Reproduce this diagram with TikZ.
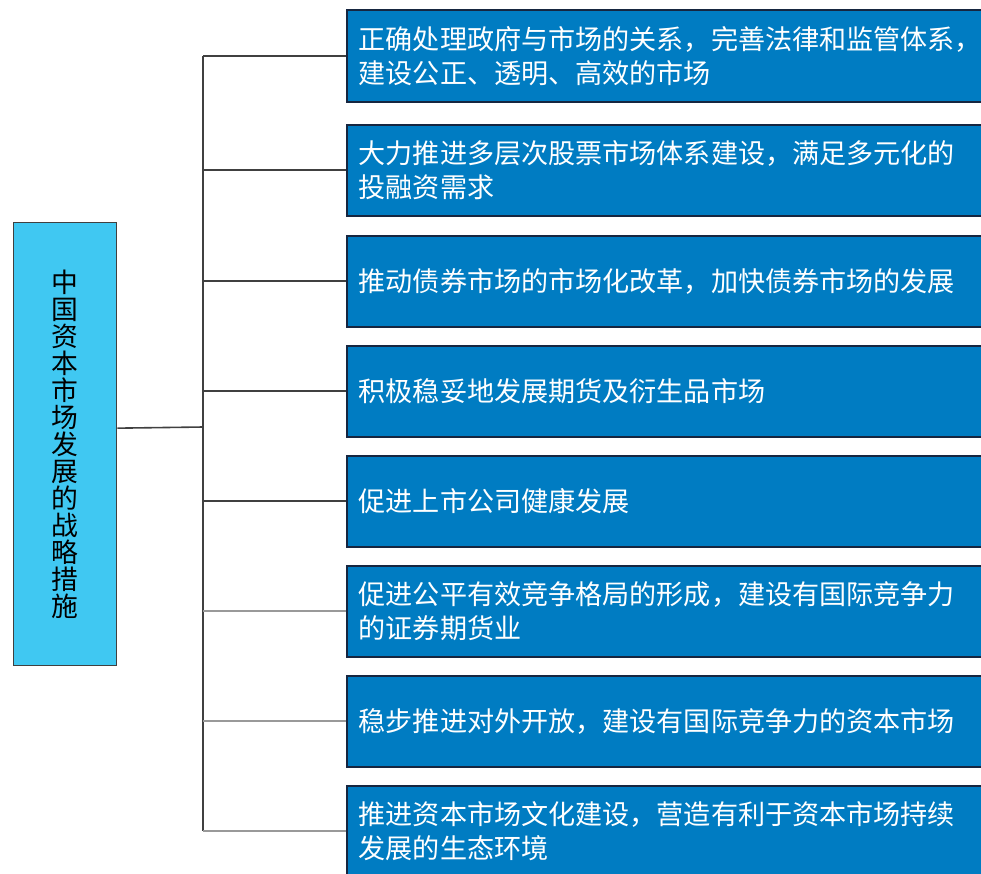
\documentclass[tikz,border=0pt]{standalone}
\usepackage{fontspec}
\setmainfont{Noto Sans CJK SC}
\usetikzlibrary{shadows}
\definecolor{rootblue}{RGB}{64,200,242}
\definecolor{itemblue}{RGB}{0,124,194}
\definecolor{itemedge}{RGB}{22,38,64}
\begin{document}
\begin{tikzpicture}[x=1pt, y=-1pt,
    rootbox/.style={draw=black!75, line width=1.3pt, fill=rootblue, minimum width=103pt, minimum height=443pt, inner sep=0pt, align=center, font=\fontsize{26.8}{27}\selectfont},
    itembox/.style={draw=itemedge, line width=1.5pt, fill=itemblue, text=white, text width=630pt, minimum height=91pt, inner xsep=12pt, inner ysep=0pt, align=left, font=\fontsize{27.1}{34}\selectfont, drop shadow={shadow xshift=1.5pt, shadow yshift=-1.5pt, opacity=0.35}},
    darkline/.style={draw=black!75, line width=1.6pt},
    lightline/.style={draw=black!40, line width=1.6pt}]
    \useasboundingbox (0, 0) rectangle (981, 873);

    \node[rootbox, anchor=north west] (root) at (13, 222) {中\\国\\资\\本\\市\\场\\发\\展\\的\\战\\略\\措\\施};

    \node[itembox, anchor=north west, minimum height=92pt] (m1) at (346, 9) {正确处理政府与市场的关系，完善法律和监管体系，\\建设公正、透明、高效的市场};
    \node[itembox, anchor=north west] (m2) at (346, 124) {大力推进多层次股票市场体系建设，满足多元化的\\投融资需求};
    \node[itembox, anchor=north west] (m3) at (346, 235) {推动债券市场的市场化改革，加快债券市场的发展};
    \node[itembox, anchor=north west] (m4) at (346, 345) {积极稳妥地发展期货及衍生品市场};
    \node[itembox, anchor=north west] (m5) at (346, 455) {促进上市公司健康发展};
    \node[itembox, anchor=north west] (m6) at (346, 565) {促进公平有效竞争格局的形成，建设有国际竞争力\\的证券期货业};
    \node[itembox, anchor=north west] (m7) at (346, 675) {稳步推进对外开放，建设有国际竞争力的资本市场};
    \node[itembox, anchor=north west] (m8) at (346, 785) {推进资本市场文化建设，营造有利于资本市场持续\\发展的生态环境};

    \coordinate (trunk) at (203, 427);

    \draw[darkline] ([yshift=16pt]root.east) -- (trunk);
    \draw[darkline] (trunk |- m1.west) -- (trunk |- m8.west);

    \draw[darkline] (m1.west) -- (m1.west -| trunk);
    \draw[darkline] (m2.west) -- (m2.west -| trunk);
    \draw[darkline] (m3.west) -- (m3.west -| trunk);
    \draw[darkline] (m4.west) -- (m4.west -| trunk);
    \draw[darkline] (m5.west) -- (m5.west -| trunk);
    \draw[lightline] (m6.west) -- (m6.west -| trunk);
    \draw[lightline] (m7.west) -- (m7.west -| trunk);
    \draw[lightline] (m8.west) -- (m8.west -| trunk);
\end{tikzpicture}
\end{document}
